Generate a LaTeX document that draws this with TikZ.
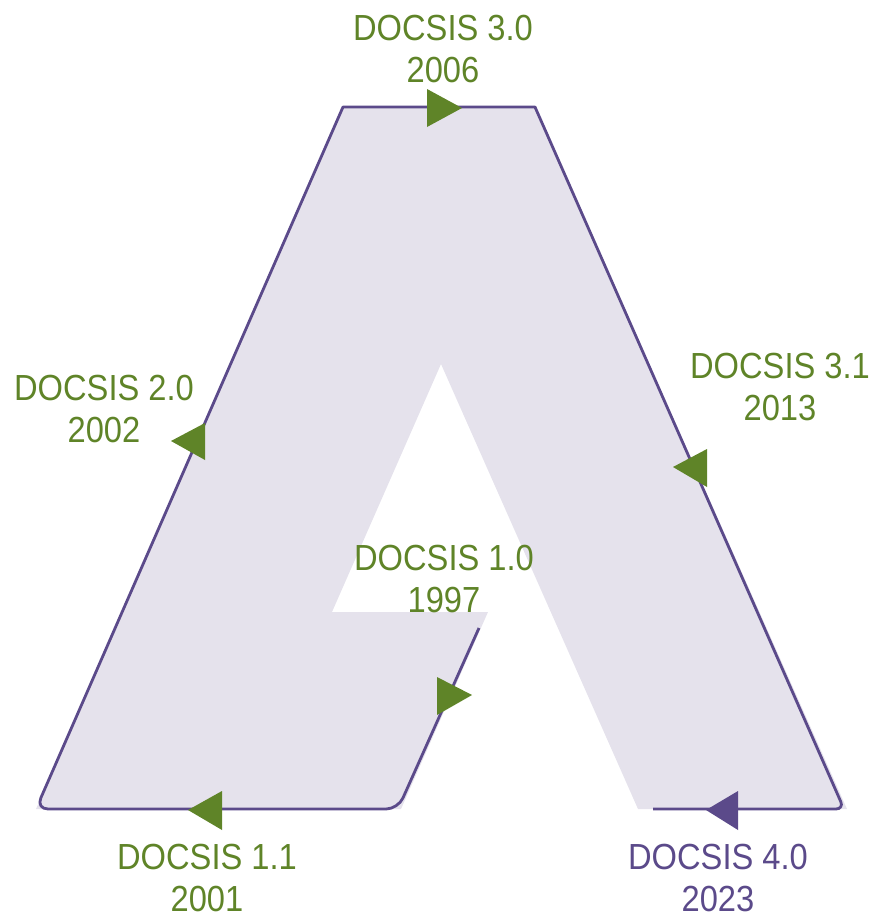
\documentclass[tikz,border=0pt]{standalone}
\usepackage{fontspec}
\newfontfamily\docsisfont[FakeStretch=0.9]{Liberation Sans}
\definecolor{docsisgreen}{RGB}{95,132,40}
\definecolor{docsispurple}{RGB}{91,74,138}
\definecolor{docsisfill}{RGB}{229,226,236}
\usepackage{tikz}

\begin{document}
\begin{tikzpicture}[x=1pt,y=-1pt]

%
% Styles
%
\tikzstyle{release} = [align=center,inner sep=0pt,font=\docsisfont\fontsize{36.3}{42}\selectfont,text=docsisgreen]
\tikzstyle{latest}  = [release,text=docsispurple]
\tikzstyle{outline} = [draw=docsispurple,line width=2.8pt,line join=round]
\tikzstyle{region}  = [fill=docsisfill]
\tikzstyle{tip}     = [fill=docsisgreen]
\tikzstyle{tipnew}  = [fill=docsispurple]

\useasboundingbox (0,0) rectangle (870,918);

\coordinate (foot)  at (479,628);
\coordinate (fl)    at (398,809);
\coordinate (bl)    at ( 36,809);
\coordinate (tl)    at (343,107);
\coordinate (tr)    at (535,107);
\coordinate (br)    at (844,809);
\coordinate (stop)  at (653,809);

\fill[region] (bl) -- (tl) -- (tr) -- (847,809) -- (638,809) -- (441,364)
  -- (332,612) -- (488,612) -- (401,809) -- cycle;

\draw[outline] (foot) [rounded corners=12pt] -- (fl) -- (bl) [sharp corners] -- (tl)
  -- (tr) [rounded corners=8pt] -- (br) -- (stop);

\fill[tip]    (427, 89) -- (462,108) -- (427,127) -- cycle;
\fill[tip]    (205,423) -- (171,441) -- (205,460) -- cycle;
\fill[tip]    (707,449) -- (673,467) -- (707,487) -- cycle;
\fill[tip]    (437,677) -- (472,695) -- (437,715) -- cycle;
\fill[tip]    (222,791) -- (188,810) -- (222,830) -- cycle;
\fill[tipnew] (738,791) -- (706,810) -- (738,830) -- cycle;

\node[release] (v30) at (443, 49) {DOCSIS 3.0\\2006};
\node[release] (v20) at (104,409) {DOCSIS 2.0\\2002};
\node[release] (v31) at (780,387) {DOCSIS 3.1\\2013};
\node[release] (v10) at (444,579) {DOCSIS 1.0\\1997};
\node[release] (v11) at (207,878) {DOCSIS 1.1\\2001};
\node[latest]  (v40) at (718,878) {DOCSIS 4.0\\2023};

\end{tikzpicture}
\end{document}
